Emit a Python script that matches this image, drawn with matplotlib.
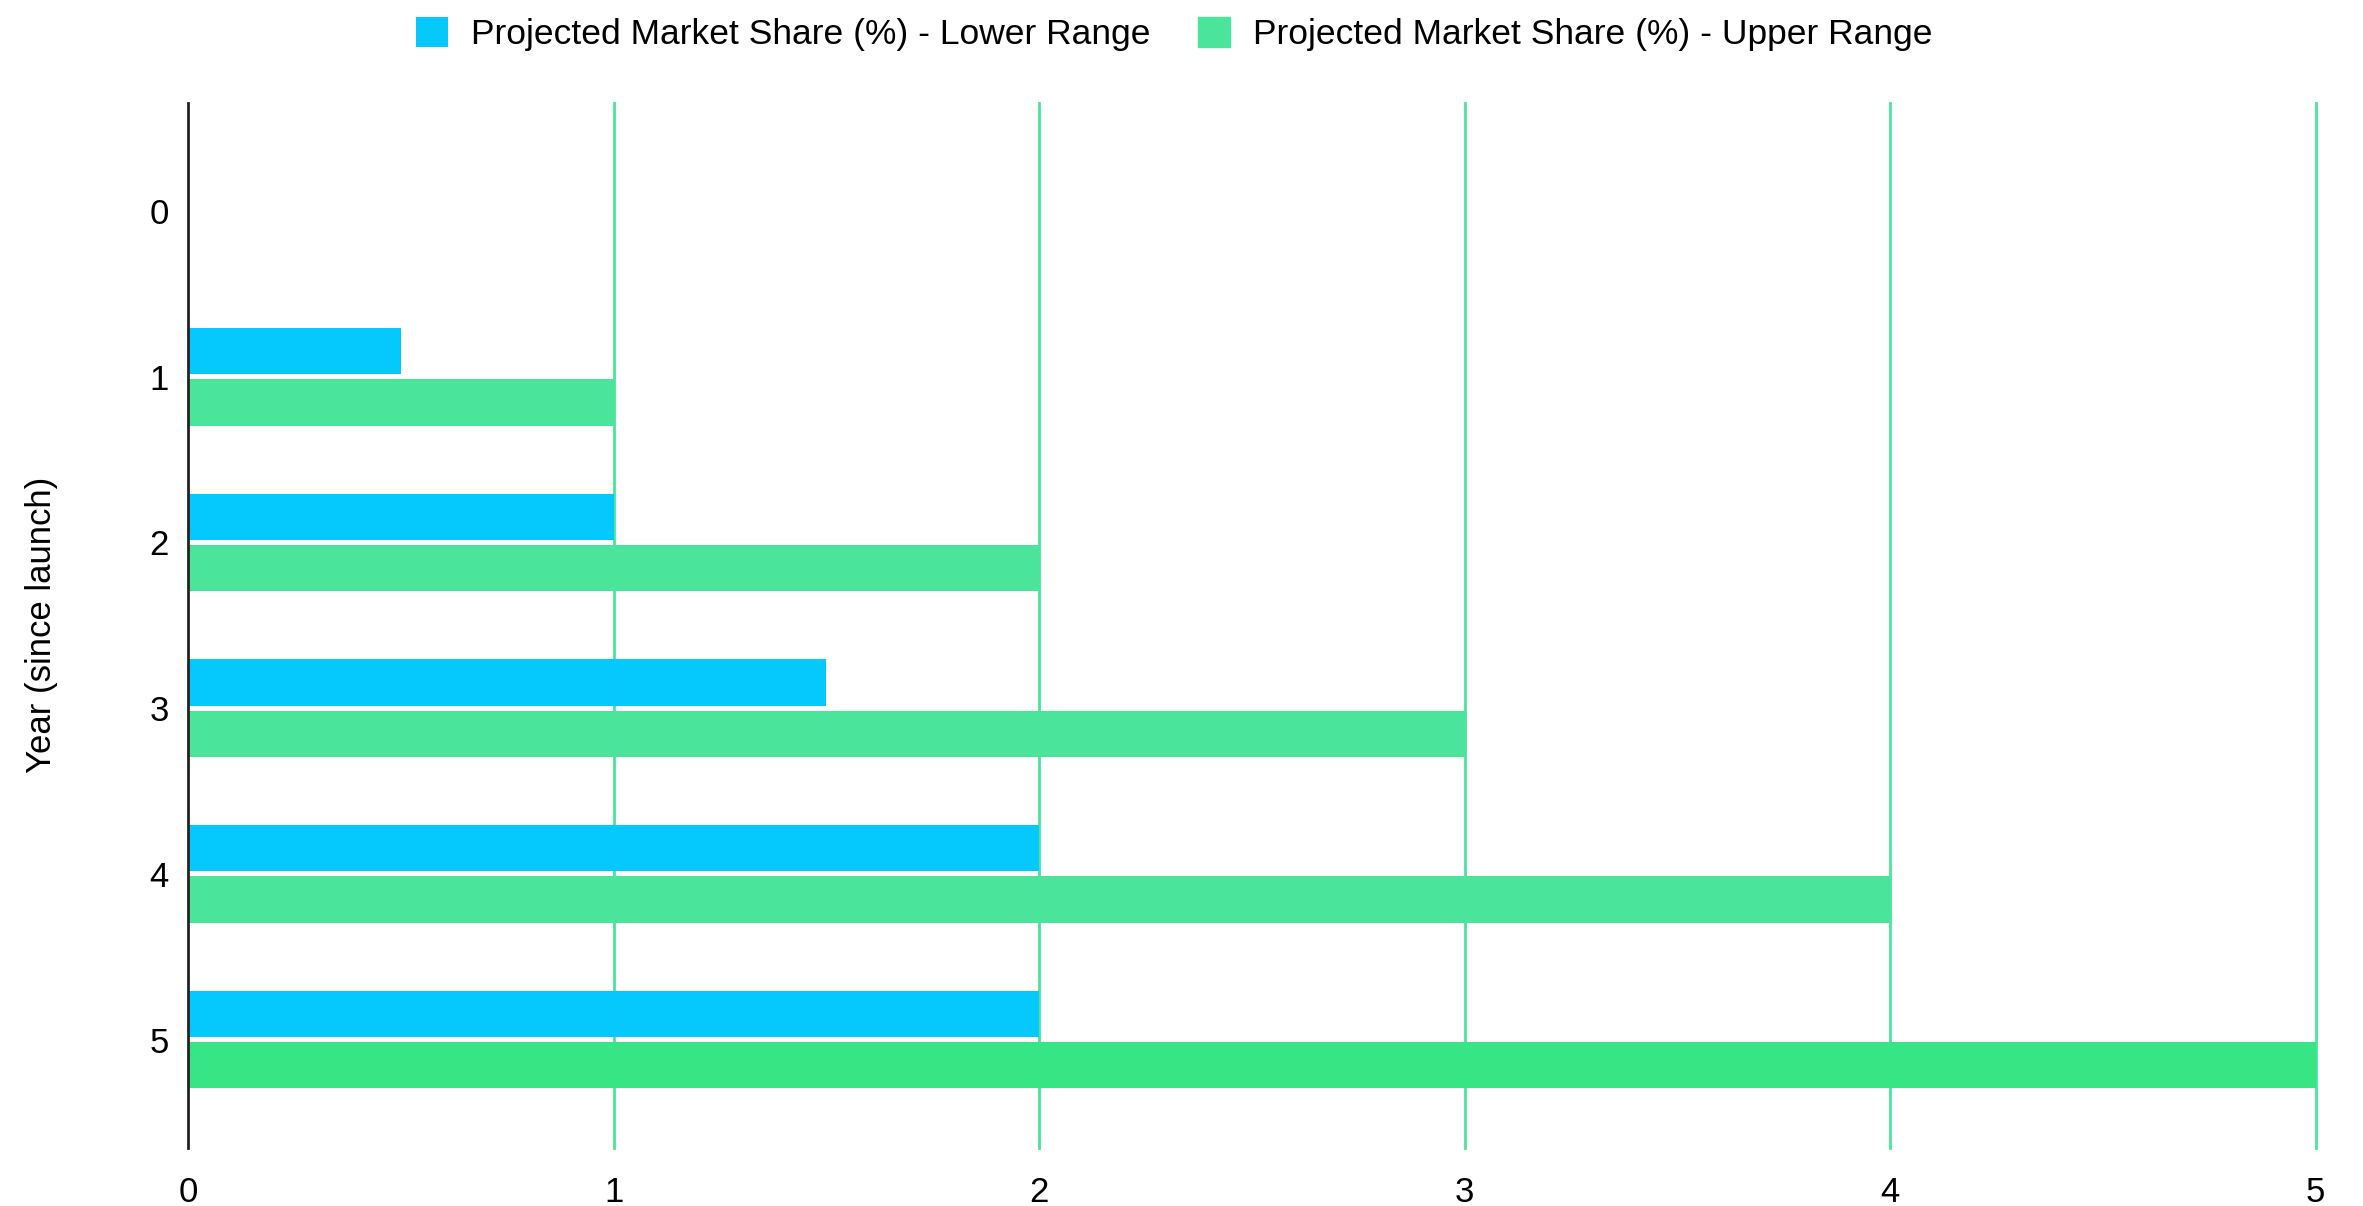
import numpy as np
import matplotlib.pyplot as plt

# data
years = [0, 1, 2, 3, 4, 5]
lower = [0, 0.5, 1, 1.5, 2, 2]
upper = [0, 1, 2, 3, 4, 5]
x_ticks = [0, 1, 2, 3, 4, 5]

blue = "#05C8FD"
green = "#4AE49A"
green_last = "#38E585"

plt.rcParams["font.family"] = ["Liberation Sans", "DejaVu Sans"]

fig = plt.figure(figsize=(23.63, 12.06), dpi=100)
ax = fig.add_axes([0.0796, 0.048, 0.9004, 0.867])

y = np.arange(len(years))
h = 0.28
off = 0.155

ax.barh(y - off, lower, height=h, color=blue, label="Projected Market Share (%) - Lower Range", zorder=3)
up_colors = [green] * (len(years) - 1) + [green_last]
ax.barh(y + off, upper, height=h, color=up_colors, label="Projected Market Share (%) - Upper Range", zorder=3)

ax.set_xlim(0, 5)
ax.set_ylim(5.655, -0.655)
ax.set_xticks(x_ticks)
ax.set_yticks(y)
ax.set_yticklabels([str(v) for v in years])

for xv in x_ticks[1:]:
    ax.axvline(xv, color=green, lw=2, zorder=1, clip_on=False)

for s in ["top", "right", "bottom"]:
    ax.spines[s].set_visible(False)
ax.spines["left"].set_color("#222222")
ax.spines["left"].set_linewidth(2)
ax.spines["left"].set_zorder(4)

ax.tick_params(axis="both", length=0, labelsize=25)
ax.tick_params(axis="y", pad=14)
ax.tick_params(axis="x", pad=20)

ax.set_ylabel("Year (since launch)", fontsize=25, labelpad=66)

leg = fig.legend(loc="upper center", bbox_to_anchor=(0.497, 1.012), ncol=2, frameon=False,
                 fontsize=25.5, handlelength=0.9, handleheight=0.9, columnspacing=1.35,
                 handletextpad=0.65)
leg.legend_handles[1].set_color(green)

fig.savefig("out.png", dpi=100)
